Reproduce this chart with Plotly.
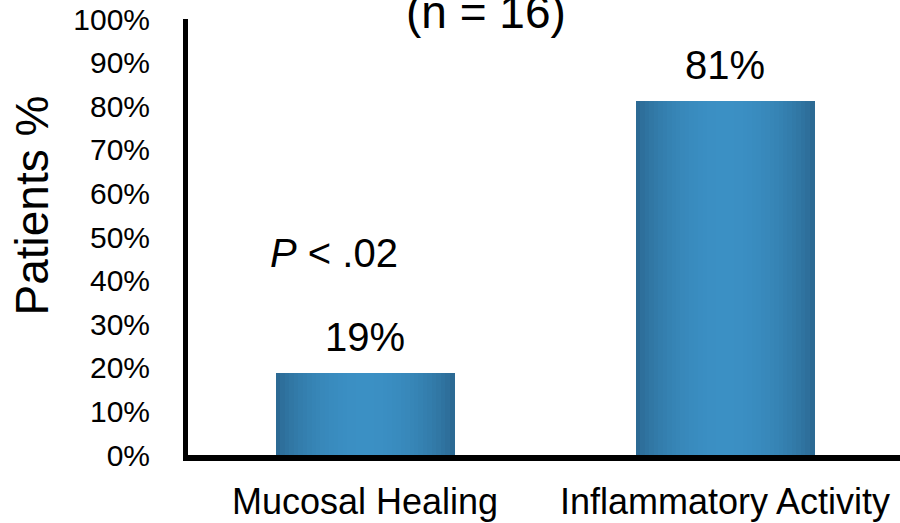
import math
import plotly.graph_objects as go

categories = ["Mucosal Healing", "Inflammatory Activity"]
values = [18.75, 81.25]
value_labels = ["19%", "81%"]
tick_vals = [0, 10, 20, 30, 40, 50, 60, 70, 80, 90, 100]
tick_text = ["0%", "10%", "20%", "30%", "40%", "50%", "60%", "70%", "80%", "90%", "100%"]
title_text = "(n = 16)"
p_text = "<i>P</i> < .02"
y_title = "Patients %"

FONT = "Liberation Sans, Arial, sans-serif"

dark = (0x2a, 0x66, 0x8f)
light = (0x3b, 0x90, 0xc4)

def shade(t):
    # horizontal gradient profile: dark edges, light middle
    f = math.sin(math.pi * t) ** 0.7
    return "rgb(%d,%d,%d)" % tuple(round(d + (l - d) * f) for d, l in zip(dark, light))

bar_w = 0.495
n_strips = 40
fig = go.Figure()
for i in range(n_strips):
    t = (i + 0.5) / n_strips
    fig.add_trace(go.Bar(
        x=categories, y=values,
        width=bar_w / n_strips * 1.15,
        offset=-bar_w / 2 + i * bar_w / n_strips,
        marker=dict(color=shade(t), line=dict(width=0)),
        hoverinfo="skip", showlegend=False,
    ))

# value labels above bars
for cat, val, lab in zip(categories, values, value_labels):
    fig.add_annotation(x=cat, y=val, text=lab, showarrow=False, yanchor="bottom",
                       yshift=12, font=dict(family=FONT, size=40, color="#000"))

fig.add_annotation(x=categories[0], y=46.3, text=p_text, showarrow=False,
                   yanchor="middle", xshift=-31,
                   font=dict(family=FONT, size=40, color="#000"))

fig.add_annotation(xref="paper", yref="paper", x=0.419, y=1.0172, text=title_text,
                   showarrow=False, yanchor="middle", xanchor="center",
                   font=dict(family=FONT, size=46, color="#000"))

fig.add_annotation(xref="paper", yref="paper", x=0, y=0.571, text=y_title,
                   showarrow=False, textangle=-90, xanchor="center", yanchor="middle",
                   xshift=-155.5, font=dict(family=FONT, size=46, color="#000"))

fig.update_layout(
    width=900, height=523,
    margin=dict(l=188, r=0, t=19, b=68),
    plot_bgcolor="white", paper_bgcolor="white",
    barmode="overlay", bargap=0,
    font=dict(family=FONT, color="#000"),
    xaxis=dict(type="category", range=[-0.4917, 1.486], showline=True, linewidth=6,
               linecolor="black", showgrid=False, zeroline=False, ticks="",
               tickfont=dict(size=36), ticklabelstandoff=10),
    yaxis=dict(range=[0, 100], tickvals=tick_vals, ticktext=tick_text,
               showline=True, linewidth=5, linecolor="black", showgrid=False,
               zeroline=False, ticks="", tickfont=dict(size=30), ticklabelstandoff=27),
)

fig.write_html("out.html", config={"displayModeBar": False},
               post_script="document.body.style.margin='0';")
